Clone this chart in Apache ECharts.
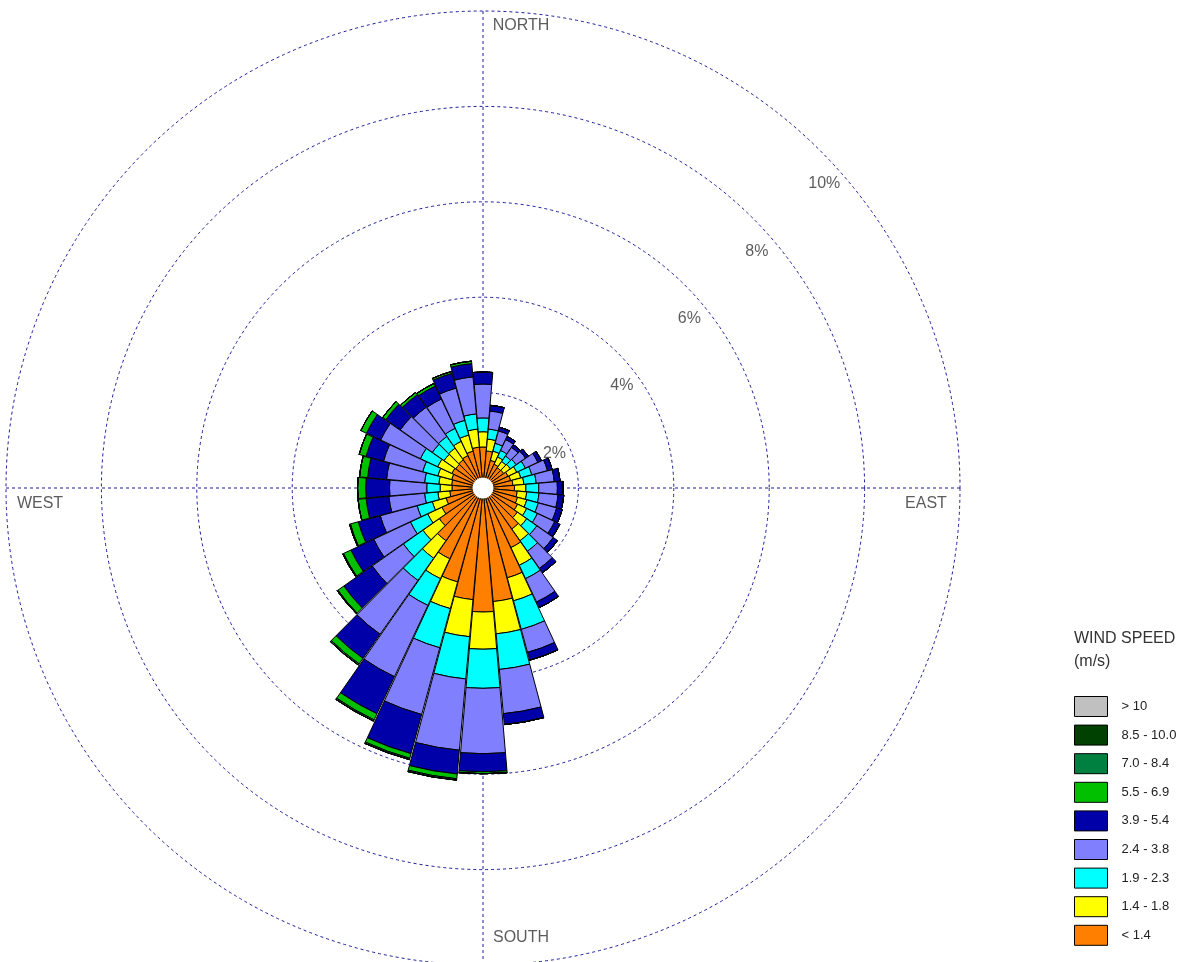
<!DOCTYPE html>
<html><head><meta charset="utf-8">
<script src="https://cdn.jsdelivr.net/npm/echarts@6/dist/echarts.min.js"></script>
<style>html,body{margin:0;padding:0;background:#fff}#c{width:1194px;height:962px}</style>
</head><body><div id="c"></div>
<script>
// Wind directions (degrees, clockwise from north), one 10-degree sector each
const directions = ['0','10','20','30','40','50','60','70','80','90','100','110','120','130','140','150','160','170',
  '180','190','200','210','220','230','240','250','260','270','280','290','300','310','320','330','340','350'];

// Speed classes (m/s), bottom of stack first
const speedClasses = ['< 1.4','1.4 - 1.8','1.9 - 2.3','2.4 - 3.8','3.9 - 5.4','5.5 - 6.9','7.0 - 8.4','8.5 - 10.0','> 10'];
const classColors = ['#ff8000','#ffff00','#00ffff','#8080ff','#0000a8','#00c000','#008040','#004000','#c0c0c0'];

// Frequencies (%) per direction for each speed class
const speedLt14 = [0.86,0.78,0.60,0.55,0.52,0.53,0.58,0.60,0.63,0.66,0.72,0.75,0.80,0.88,1.05,1.38,1.95,2.39,
  2.60,2.35,2.04,1.64,1.35,1.12,0.95,0.80,0.70,0.65,0.66,0.68,0.72,0.70,0.72,0.75,0.80,0.86];
const speed14to18 = [0.32,0.25,0.20,0.17,0.16,0.17,0.20,0.22,0.23,0.24,0.20,0.20,0.21,0.24,0.30,0.41,0.50,0.68,
  0.78,0.78,0.58,0.46,0.45,0.42,0.33,0.30,0.25,0.25,0.27,0.30,0.33,0.30,0.30,0.33,0.35,0.38];
const speed19to23 = [0.29,0.21,0.17,0.15,0.14,0.15,0.20,0.24,0.26,0.27,0.26,0.25,0.25,0.26,0.27,0.31,0.62,0.75,
  0.82,0.89,0.85,0.62,0.57,0.50,0.40,0.33,0.28,0.28,0.30,0.33,0.40,0.30,0.30,0.30,0.32,0.32];
const speed24to38 = [0.71,0.38,0.27,0.25,0.22,0.24,0.29,0.34,0.38,0.39,0.40,0.40,0.40,0.42,0.44,0.54,0.50,0.93,
  1.37,1.50,1.45,1.65,1.38,0.80,0.85,0.80,0.75,0.78,0.80,0.85,0.92,0.82,0.75,0.68,0.70,0.78];
const speed39to54 = [0.25,0.12,0.08,0.07,0.07,0.07,0.08,0.10,0.12,0.12,0.12,0.12,0.12,0.11,0.11,0.13,0.17,0.23,
  0.38,0.50,0.85,0.86,0.62,0.73,0.53,0.48,0.48,0.50,0.40,0.38,0.33,0.37,0.32,0.30,0.32,0.28];
const speed55to69 = [0,0,0,0,0,0,0,0,0,0,0,0,0,0,0,0,0,0,
  0.04,0.10,0.10,0.14,0.14,0.15,0.17,0.17,0.17,0.17,0.17,0.15,0.13,0.08,0.06,0.06,0.04,0.05];
const speed70to84 = [0,0,0,0,0,0,0,0,0,0,0,0,0,0,0,0,0,0,
  0,0.03,0.03,0.03,0.03,0.02,0.02,0.02,0,0,0,0,0,0,0,0,0,0];
const speed85to100 = directions.map(() => 0);
const speedGt10 = directions.map(() => 0);
const seriesValues = [speedLt14, speed14to18, speed19to23, speed24to38, speed39to54, speed55to69, speed70to84, speed85to100, speedGt10];

// Ring ticks and compass labels
const ringTicks = [2,4,6,8,10];
const ringLabels = ['2%','4%','6%','8%','10%'];
const compassNames = ['NORTH','EAST','SOUTH','WEST'];
const compassAngles = [0,90,180,270];

const FONT = 'Liberation Sans, Arial, sans-serif';
const gridLine = {show:true, lineStyle:{color:'#1c1c9c', type:[3,3], width:1}};
const compassOffsets = [[38,15],[-34,16],[38,-27],[34,16]];

const chart = echarts.init(document.getElementById('c'), null, {renderer:'canvas'});
const series = speedClasses.map((name, i) => ({
  type:'bar', name, coordinateSystem:'polar', polarIndex:0, stack:'rose',
  data: seriesValues[i], barCategoryGap:'3%',
  itemStyle:{color:classColors[i], borderColor:'#000', borderWidth:1},
  emphasis:{disabled:true}, silent:true, z:2
}));
series.push({
  type:'scatter', coordinateSystem:'polar', polarIndex:1, encode:{radius:0, angle:1},
  symbolSize:1, itemStyle:{color:'rgba(0,0,0,0)'}, silent:true, z:6,
  data: ringTicks.map((v,i) => ({value:[v,45], label:{formatter:ringLabels[i]}})),
  label:{show:true, position:'inside', offset:[4,33], fontSize:16, color:'#333', fontFamily:FONT}
});
series.push({
  type:'scatter', coordinateSystem:'polar', polarIndex:1, encode:{radius:0, angle:1},
  symbolSize:1, itemStyle:{color:'rgba(0,0,0,0)'}, silent:true, z:6,
  data: compassNames.map((n,i) => ({value:[10, compassAngles[i]], label:{formatter:n, offset:compassOffsets[i]}})),
  label:{show:true, position:'inside', fontSize:16, color:'#333', fontFamily:FONT}
});
series.push({
  type:'scatter', coordinateSystem:'polar', polarIndex:1, encode:{radius:0, angle:1},
  symbolSize:21, itemStyle:{color:'#ffffff', opacity:1}, silent:true, z:10, data:[[0,0]]
});

chart.setOption({
  animation:false,
  backgroundColor:'#fff',
  title:{text:'WIND SPEED\n(m/s)', left:1074, top:627, padding:0,
    textStyle:{fontSize:16, fontWeight:'normal', color:'#333', lineHeight:23, fontFamily:FONT}},
  legend:{orient:'vertical', left:1074, top:696, padding:0, height:270, itemWidth:33, itemHeight:20, itemGap:7.6,
    icon:'rect', selectedMode:false, data: speedClasses.slice().reverse(),
    itemStyle:{borderColor:'#000', borderWidth:1},
    textStyle:{fontSize:13, color:'#222', fontFamily:FONT, padding:[0,0,0,9]}},
  polar:[{center:[483,488], radius:477},{center:[483,488], radius:477}],
  angleAxis:[
    {polarIndex:0, type:'category', data:directions, startAngle:95, clockwise:true, boundaryGap:true,
      axisLine:{show:false}, axisTick:{show:false}, axisLabel:{show:false}, splitLine:{show:false}},
    {polarIndex:1, type:'value', min:0, max:360, interval:90, startAngle:90, clockwise:true,
      axisLine:{show:false}, axisTick:{show:false}, axisLabel:{show:false}, splitLine:gridLine}
  ],
  radiusAxis:[
    {polarIndex:0, type:'value', min:0, max:10, axisLine:{show:false}, axisTick:{show:false}, axisLabel:{show:false}, splitLine:{show:false}},
    {polarIndex:1, type:'value', min:0, max:10, interval:2, axisLine:{show:false}, axisTick:{show:false}, axisLabel:{show:false}, splitLine:gridLine}
  ],
  series
});
</script></body></html>
